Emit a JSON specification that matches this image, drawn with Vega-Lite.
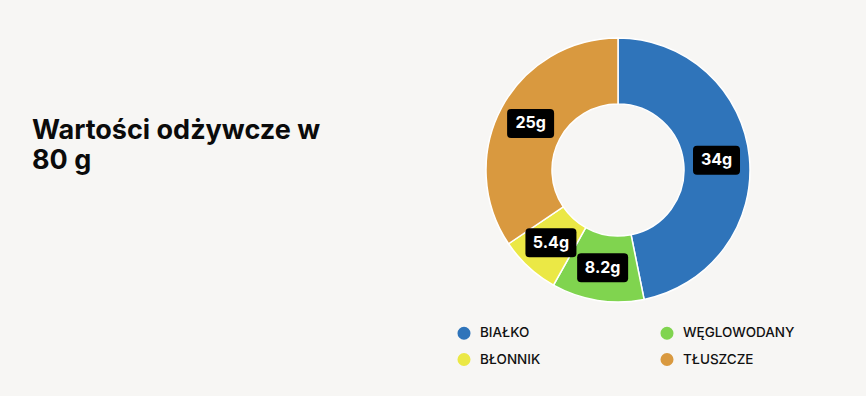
{
  "$schema": "https://vega.github.io/schema/vega-lite/v6.json",
  "width": 866,
  "height": 396,
  "padding": 0,
  "autosize": {"type": "none"},
  "background": "#f7f6f4",
  "config": {"view": {"stroke": null}, "font": "Inter"},
  "title": {
    "text": ["Wartości odżywcze w", "80 g"],
    "anchor": "start",
    "frame": "group",
    "orient": "top",
    "offset": 0,
    "baseline": "alphabetic",
    "dx": 32,
    "dy": 196,
    "font": "Inter",
    "fontSize": 27,
    "fontWeight": "bold",
    "lineHeight": 30,
    "color": "#0b0b0b"
  },
  "data": {
    "values": [
      {"name": "BIAŁKO", "value": 34, "label": "34g"},
      {"name": "WĘGLOWODANY", "value": 8.2, "label": "8.2g"},
      {"name": "BŁONNIK", "value": 5.4, "label": "5.4g"},
      {"name": "TŁUSZCZE", "value": 25, "label": "25g"}
    ]
  },
  "transform": [
    {"joinaggregate": [{"op": "sum", "field": "value", "as": "total"}]},
    {"window": [{"op": "row_number", "as": "idx"}, {"op": "sum", "field": "value", "as": "cum"}], "frame": [null, 0]},
    {"calculate": "(datum.cum - datum.value / 2) / datum.total * 2 * PI", "as": "mid"},
    {"calculate": "99 * sin(datum.mid)", "as": "lx"},
    {"calculate": "-99 * cos(datum.mid)", "as": "ly"}
  ],
  "layer": [
    {
      "mark": {"type": "arc", "outerRadius": 132, "innerRadius": 66, "stroke": "#ffffff", "strokeWidth": 1.5},
      "encoding": {
        "x": {"datum": 0, "type": "quantitative", "scale": {"domain": [-618, 248], "nice": false, "zero": false}, "axis": null},
        "y": {"datum": 0, "type": "quantitative", "scale": {"domain": [-170, 226], "nice": false, "zero": false, "reverse": true}, "axis": null},
        "theta": {"field": "value", "type": "quantitative", "stack": true},
        "order": {"field": "idx", "type": "quantitative"},
        "color": {
          "field": "name",
          "type": "nominal",
          "scale": {
            "domain": ["BIAŁKO", "BŁONNIK", "WĘGLOWODANY", "TŁUSZCZE"],
            "range": ["#2f74ba", "#ebe845", "#80d44f", "#d9993f"]
          },
          "legend": {
            "title": null,
            "orient": "none",
            "legendX": 457,
            "legendY": 326,
            "columns": 2,
            "padding": 0,
            "columnPadding": 119,
            "rowPadding": 12.5,
            "symbolType": "circle",
            "symbolSize": 170,
            "symbolStrokeWidth": 0,
            "symbolOpacity": 1,
            "labelOffset": 9,
            "labelFont": "Inter",
            "labelFontSize": 13.5,
            "labelFontWeight": 500,
            "labelColor": "#111111"
          }
        }
      }
    },
    {
      "mark": {"type": "point", "filled": true, "opacity": 1, "strokeWidth": 0},
      "encoding": {
        "x": {"field": "lx", "type": "quantitative"},
        "y": {"field": "ly", "type": "quantitative"},
        "color": {"value": "#000000"},
        "shape": {
          "condition": {"test": "length(datum.label) > 3", "value": "M-0.843,-0.569H0.843Q1,-0.569 1,-0.412V0.412Q1,0.569 0.843,0.569H-0.843Q-1,0.569 -1,0.412V-0.412Q-1,-0.569 -0.843,-0.569Z"},
          "value": "M-0.83,-0.617H0.83Q1,-0.617 1,-0.447V0.447Q1,0.617 0.83,0.617H-0.83Q-1,0.617 -1,0.447V-0.447Q-1,-0.617 -0.83,-0.617Z"
        },
        "size": {"condition": {"test": "length(datum.label) > 3", "value": 2601}, "value": 2209}
      }
    },
    {
      "mark": {"type": "text", "font": "Inter", "fontSize": 16, "fontWeight": "bold", "color": "#ffffff", "baseline": "middle", "align": "center"},
      "encoding": {
        "x": {"field": "lx", "type": "quantitative"},
        "y": {"field": "ly", "type": "quantitative"},
        "text": {"field": "label"}
      }
    }
  ]
}
